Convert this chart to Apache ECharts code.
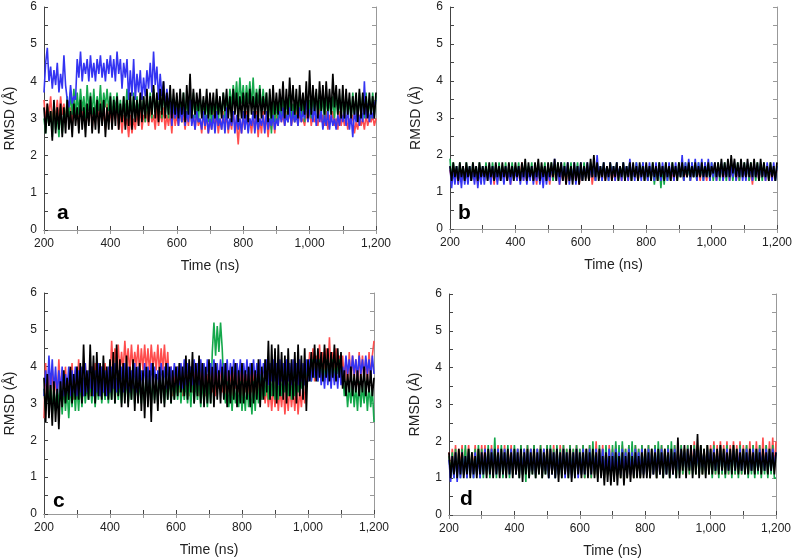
<!DOCTYPE html>
<html><head><meta charset="utf-8">
<script src="https://cdn.jsdelivr.net/npm/echarts@6/dist/echarts.min.js"></script>
<style>html,body{margin:0;padding:0;background:#fff}#c{width:795px;height:559px}</style>
</head><body><div id="c"></div>
<script>
const time = [200,205,210,215,220,225,230,235,240,245,250,255,260,265,270,275,280,285,290,295,300,
305,310,315,320,325,330,335,340,345,350,355,360,365,370,375,380,385,390,395,400,
405,410,415,420,425,430,435,440,445,450,455,460,465,470,475,480,485,490,495,500,
505,510,515,520,525,530,535,540,545,550,555,560,565,570,575,580,585,590,595,600,
605,610,615,620,625,630,635,640,645,650,655,660,665,670,675,680,685,690,695,700,
705,710,715,720,725,730,735,740,745,750,755,760,765,770,775,780,785,790,795,800,
805,810,815,820,825,830,835,840,845,850,855,860,865,870,875,880,885,890,895,900,
905,910,915,920,925,930,935,940,945,950,955,960,965,970,975,980,985,990,995,1000,
1005,1010,1015,1020,1025,1030,1035,1040,1045,1050,1055,1060,1065,1070,1075,1080,1085,1090,1095,1100,
1105,1110,1115,1120,1125,1130,1135,1140,1145,1150,1155,1160,1165,1170,1175,1180,1185,1190,1195,1200];
const xTicks = [200,400,600,800,1000,1200];
const yTicks = [0,1,2,3,4,5,6];
const panelLetters = ['a','b','c','d'];

// Panel a
const aRed = [3.5,2.9,3.4,3.1,3.6,2.9,3.3,3.0,3.5,2.9,3.6,3.1,3.4,2.9,3.5,3.0,3.3,2.8,3.5,3.0,3.3,
2.8,3.4,3.0,3.5,2.8,3.2,2.9,3.5,2.7,3.3,3.0,3.4,2.8,3.6,2.9,3.2,2.7,3.4,2.9,3.2,
2.8,3.3,3.0,3.4,2.7,3.2,2.6,3.1,2.8,3.0,2.5,3.1,2.6,3.0,2.7,3.2,2.8,3.3,2.7,3.1,
2.9,3.2,2.8,3.3,2.9,3.1,2.7,3.3,2.8,3.2,2.9,3.3,2.7,3.1,2.8,3.2,2.6,3.3,2.8,3.1,
2.8,3.3,2.9,3.1,2.7,3.2,2.8,3.3,2.9,3.1,2.7,3.2,2.8,3.0,2.6,3.2,2.7,3.1,2.6,3.0,
2.7,3.2,2.8,3.1,2.6,3.0,2.7,3.2,2.8,3.1,2.6,3.0,2.7,3.2,2.8,2.9,2.3,3.0,2.6,3.1,
2.7,3.2,2.8,3.0,2.6,3.1,2.7,3.2,2.5,3.0,2.6,3.2,2.7,3.1,2.5,3.0,2.7,3.2,2.6,3.1,
2.8,3.3,2.9,3.1,2.8,3.2,2.9,3.3,2.8,3.1,2.9,3.3,2.8,3.2,2.9,3.0,2.8,3.2,2.9,3.3,
2.8,3.2,2.9,3.0,2.8,3.3,2.9,3.1,2.8,3.2,2.7,3.1,2.9,3.2,2.8,3.0,2.7,3.2,2.8,3.1,
2.8,3.1,2.7,3.0,2.9,3.1,2.6,2.9,2.7,3.1,2.8,3.0,2.7,3.1,2.8,3.0,2.9,3.1,2.8,3.0];
const aGreen = [3.0,2.6,3.3,2.8,3.2,2.5,3.4,2.7,3.1,2.5,3.3,2.6,3.2,2.9,3.6,3.0,3.7,3.1,3.8,3.0,3.7,
3.1,3.8,3.2,3.6,3.0,3.9,3.2,3.7,3.1,3.8,3.0,3.6,3.2,3.9,3.1,3.7,3.3,3.8,3.2,3.7,
3.0,3.6,3.2,3.7,3.1,3.5,2.9,3.6,3.1,3.8,3.0,3.5,3.1,3.7,3.0,3.6,3.2,3.5,3.1,3.6,
2.9,3.6,3.1,3.7,3.0,3.8,3.2,3.6,3.1,3.7,3.0,3.8,3.1,3.6,3.0,3.7,3.1,3.5,3.0,3.6,
3.0,3.6,2.9,3.7,3.1,3.5,3.0,3.6,2.9,3.7,3.0,3.5,2.9,3.6,3.1,3.5,2.8,3.6,2.9,3.4,
2.8,3.5,3.0,3.6,2.9,3.5,3.1,3.7,3.0,3.6,3.2,3.8,3.3,3.9,3.4,4.0,3.3,4.1,3.4,3.9,
3.3,3.9,3.4,4.0,3.3,4.1,3.2,3.8,3.4,3.9,3.2,3.8,3.3,3.7,3.0,3.6,2.6,3.5,2.9,3.4,
2.9,3.5,3.0,3.6,3.1,3.5,2.9,3.6,3.0,3.4,2.9,3.5,3.1,3.6,3.0,3.5,2.9,3.6,3.0,3.5,
3.0,3.6,3.1,3.7,3.0,3.5,3.1,3.6,2.9,3.7,3.0,3.5,3.1,3.6,3.0,3.7,3.1,3.5,3.0,3.7,
3.0,3.6,3.1,3.5,2.9,3.7,3.1,3.6,3.0,3.7,3.1,3.6,3.0,3.7,3.1,3.5,3.0,3.7,3.1,3.6];
const aBlue = [3.7,4.5,4.9,4.0,4.4,3.8,4.3,3.9,4.5,3.7,4.2,3.8,4.7,3.9,3.5,3.3,3.9,3.4,3.6,3.5,4.6,
4.1,4.8,4.0,4.5,4.2,4.6,4.0,4.7,4.1,4.5,4.0,4.6,4.2,4.7,4.1,4.5,4.0,4.6,4.2,4.7,
4.1,4.6,4.0,4.8,4.2,4.6,3.8,4.5,4.1,4.6,3.5,4.3,3.6,4.6,3.5,4.2,3.7,4.3,3.5,4.1,
3.6,4.3,3.8,4.5,3.7,4.8,3.9,4.4,3.5,4.2,3.6,4.0,3.3,3.8,3.4,3.6,2.8,3.4,3.0,3.3,
2.8,3.3,2.9,3.4,2.8,3.2,2.9,3.5,2.8,3.1,2.7,3.2,2.9,3.0,2.7,3.2,2.8,3.1,2.6,3.0,
2.7,3.1,2.6,3.2,2.8,3.0,2.7,3.1,2.6,3.3,2.7,3.0,2.8,3.2,2.6,3.1,2.7,3.0,2.6,3.2,
2.7,3.1,2.6,3.0,2.8,3.2,2.6,3.1,2.7,3.0,2.8,3.1,2.6,3.2,2.7,3.0,2.8,3.1,2.7,3.0,
2.8,3.2,2.9,3.3,2.8,3.1,2.9,3.3,2.8,3.2,2.9,3.1,2.8,3.3,2.9,3.2,3.0,3.6,2.9,3.2,
3.3,2.9,3.4,2.8,3.3,2.9,3.2,2.7,3.1,2.8,3.2,2.7,3.1,2.8,3.0,2.7,3.1,2.8,3.2,2.9,
3.2,2.8,3.3,2.7,3.1,2.5,3.2,2.9,3.3,2.8,3.2,2.9,4.0,3.0,3.4,2.9,3.2,3.0,3.4,3.5];
const aBlack = [3.3,2.6,3.4,2.8,3.2,2.4,3.5,2.6,3.3,2.7,3.4,2.5,3.3,2.6,3.5,2.7,3.2,2.5,3.4,2.8,3.3,
2.6,3.5,2.7,3.3,2.5,3.4,2.8,3.6,2.6,3.3,2.7,3.5,2.6,3.4,2.8,3.5,2.5,3.3,2.7,3.6,
2.7,3.5,2.8,3.6,2.7,3.4,2.9,3.6,2.7,3.5,2.8,3.7,2.7,3.6,2.9,3.5,2.8,3.7,2.9,3.6,
3.0,3.8,2.9,3.6,3.1,3.9,3.0,3.7,2.9,3.8,3.1,4.0,3.0,3.7,3.1,3.9,3.0,3.8,3.1,3.7,
3.0,3.8,3.1,3.7,2.9,3.9,3.1,4.2,3.0,3.8,3.1,3.7,3.2,3.8,3.0,3.6,3.1,3.8,3.0,3.7,
3.1,3.7,3.0,3.8,3.1,3.6,3.0,3.7,3.2,3.8,3.0,3.6,2.9,3.8,3.1,3.7,2.9,3.6,3.0,3.7,
3.0,3.7,2.9,3.8,3.1,3.6,3.0,3.7,2.9,3.8,3.0,3.6,3.1,3.7,2.9,3.8,3.0,3.9,3.1,3.7,
3.1,3.8,3.2,4.0,3.0,3.8,3.1,4.1,3.2,3.9,3.1,3.8,3.0,3.9,3.2,3.7,3.1,4.0,3.0,4.3,
3.1,3.9,3.2,3.8,3.0,4.0,3.2,3.9,3.1,4.0,3.2,3.8,3.1,4.2,3.3,3.9,3.1,3.8,3.0,3.9,
3.0,3.8,3.1,3.7,3.0,3.6,3.1,3.7,2.9,3.8,3.0,3.7,3.1,3.6,3.0,3.7,3.1,3.6,3.0,3.7];

// Panel b
const bRed = [1.6,1.3,1.7,1.4,1.6,1.2,1.7,1.3,1.5,1.3,1.7,1.4,1.6,1.3,1.7,1.3,1.6,1.2,1.7,1.4,1.6,
1.3,1.6,1.4,1.7,1.3,1.6,1.2,1.7,1.3,1.6,1.4,1.7,1.3,1.6,1.3,1.7,1.2,1.6,1.4,1.7,
1.3,1.6,1.4,1.8,1.3,1.7,1.3,1.6,1.4,1.7,1.3,1.6,1.2,1.7,1.3,1.6,1.4,1.7,1.3,1.6,
1.2,1.7,1.3,1.6,1.4,1.7,1.2,1.6,1.3,1.7,1.2,1.6,1.3,1.7,1.4,1.6,1.3,1.7,1.2,1.6,
1.3,1.7,1.4,1.6,1.3,1.7,1.2,1.6,1.3,1.7,1.4,1.6,1.3,1.7,1.3,1.6,1.4,1.7,1.3,1.6,
1.3,1.7,1.4,1.6,1.3,1.7,1.4,1.6,1.3,1.7,1.3,1.6,1.4,1.7,1.3,1.6,1.4,1.7,1.3,1.6,
1.3,1.7,1.4,1.6,1.3,1.7,1.3,1.6,1.4,1.7,1.3,1.6,1.4,1.7,1.3,1.6,1.3,1.7,1.4,1.6,
1.4,1.7,1.3,1.6,1.4,1.7,1.3,1.6,1.4,1.7,1.4,1.6,1.3,1.7,1.4,1.6,1.3,1.7,1.4,1.6,
1.4,1.7,1.3,1.6,1.4,1.7,1.3,1.6,1.4,1.7,1.3,1.6,1.4,1.7,1.3,1.6,1.3,1.7,1.4,1.6,
1.4,1.7,1.3,1.6,1.2,1.7,1.4,1.6,1.3,1.7,1.4,1.6,1.3,1.7,1.4,1.6,1.3,1.7,1.4,1.6];
const bGreen = [1.9,1.3,1.8,1.4,1.7,1.3,1.8,1.4,1.7,1.3,1.8,1.4,1.7,1.3,1.8,1.4,1.7,1.3,1.8,1.4,1.7,
1.3,1.8,1.4,1.7,1.3,1.8,1.4,1.7,1.3,1.8,1.4,1.7,1.3,1.8,1.4,1.7,1.3,1.8,1.4,1.7,
1.4,1.8,1.3,1.7,1.4,1.8,1.3,1.7,1.4,1.8,1.3,1.7,1.4,1.8,1.3,1.7,1.4,1.8,1.3,1.7,
1.4,1.8,1.3,1.7,1.4,1.8,1.3,1.7,1.4,1.8,1.3,1.7,1.4,1.8,1.3,1.7,1.4,1.8,1.3,1.7,
1.3,1.8,1.4,1.7,1.3,1.8,1.4,1.7,1.3,1.8,1.4,1.7,1.3,1.8,1.4,1.7,1.3,1.8,1.4,1.7,
1.4,1.8,1.3,1.7,1.4,1.8,1.3,1.7,1.4,1.8,1.3,1.7,1.4,1.8,1.3,1.7,1.4,1.8,1.3,1.7,
1.3,1.7,1.3,1.8,1.2,1.7,1.3,1.8,1.1,1.7,1.2,1.8,1.3,1.7,1.3,1.8,1.4,1.7,1.3,1.8,
1.4,1.7,1.3,1.8,1.4,1.7,1.3,1.8,1.4,1.7,1.3,1.8,1.4,1.7,1.3,1.8,1.4,1.7,1.3,1.8,
1.3,1.7,1.4,1.8,1.3,1.7,1.4,1.8,1.3,1.7,1.4,1.8,1.3,1.7,1.4,1.8,1.3,1.7,1.4,1.8,
1.4,1.7,1.3,1.8,1.4,1.7,1.3,1.8,1.4,1.7,1.3,1.8,1.4,1.7,1.3,1.8,1.4,1.7,1.3,1.7];
const bBlue = [1.7,1.1,1.6,1.2,1.7,1.2,1.6,1.1,1.7,1.2,1.6,1.2,1.7,1.3,1.6,1.2,1.7,1.1,1.6,1.2,1.7,
1.2,1.7,1.3,1.6,1.2,1.7,1.3,1.6,1.2,1.7,1.3,1.6,1.2,1.7,1.3,1.6,1.2,1.7,1.3,1.6,
1.3,1.7,1.2,1.6,1.3,1.7,1.2,1.6,1.3,1.7,1.2,1.6,1.3,1.7,1.2,1.6,1.1,1.7,1.2,1.6,
1.3,1.7,1.4,1.9,1.3,1.7,1.2,1.8,1.3,1.7,1.4,1.8,1.2,1.7,1.3,1.8,1.2,1.7,1.3,1.8,
1.3,1.7,1.4,1.8,1.3,1.7,1.4,1.8,1.3,2.0,1.4,1.7,1.3,1.8,1.4,1.7,1.3,1.8,1.4,1.7,
1.3,1.8,1.4,1.7,1.3,1.8,1.4,1.7,1.3,1.9,1.4,1.7,1.3,1.8,1.4,1.7,1.3,1.8,1.4,1.7,
1.3,1.8,1.4,1.7,1.3,1.8,1.4,1.7,1.3,1.8,1.4,1.7,1.3,1.8,1.4,1.7,1.3,1.8,1.4,1.7,
1.4,2.0,1.3,1.8,1.4,1.9,1.3,1.8,1.4,1.9,1.3,1.8,1.4,1.9,1.3,1.8,1.4,1.9,1.3,1.8,
1.4,1.8,1.3,1.7,1.4,1.8,1.3,1.7,1.4,1.8,1.3,1.7,1.4,1.8,1.3,1.7,1.4,1.8,1.3,1.7,
1.3,1.8,1.4,1.7,1.3,1.8,1.4,1.7,1.3,1.8,1.4,1.7,1.3,1.8,1.4,1.7,1.3,1.8,1.3,1.7];
const bBlack = [1.7,1.3,1.8,1.4,1.7,1.3,1.8,1.4,1.7,1.3,1.8,1.4,1.7,1.3,1.8,1.4,1.7,1.3,1.8,1.4,1.7,
1.4,1.7,1.3,1.8,1.4,1.7,1.3,1.8,1.4,1.7,1.3,1.8,1.4,1.7,1.3,1.8,1.4,1.7,1.3,1.8,
1.4,1.7,1.3,1.8,1.4,1.9,1.3,1.8,1.4,1.7,1.3,1.8,1.4,1.9,1.3,1.8,1.4,1.7,1.3,1.8,
1.4,1.8,1.4,1.9,1.3,1.8,1.4,1.8,1.3,1.7,1.2,1.8,1.3,1.7,1.2,1.8,1.3,1.7,1.2,1.8,
1.3,1.7,1.3,1.8,1.3,1.9,1.4,2.0,1.4,1.8,1.3,1.7,1.4,1.8,1.3,1.7,1.4,1.8,1.3,1.7,
1.4,1.8,1.3,1.7,1.4,1.8,1.3,1.7,1.4,1.8,1.3,1.8,1.4,1.7,1.3,1.8,1.4,1.7,1.3,1.8,
1.4,1.7,1.3,1.8,1.4,1.7,1.3,1.8,1.4,1.7,1.3,1.8,1.4,1.7,1.3,1.8,1.4,1.7,1.3,1.8,
1.4,1.8,1.4,1.7,1.4,1.8,1.4,1.7,1.4,1.8,1.4,1.7,1.4,1.8,1.4,1.7,1.4,1.8,1.4,1.7,
1.5,1.8,1.4,1.8,1.4,1.9,1.4,1.8,1.4,1.9,1.4,2.0,1.5,1.9,1.4,1.8,1.4,1.9,1.4,1.8,
1.4,1.9,1.4,1.8,1.4,1.9,1.4,1.8,1.3,1.9,1.4,1.8,1.4,1.7,1.3,1.8,1.4,1.7,1.3,1.8];

// Panel c
const cRed = [2.6,4.1,3.1,3.8,3.0,4.0,3.2,3.7,3.1,4.2,3.3,3.9,3.1,4.0,3.2,3.8,3.3,4.1,3.1,3.9,3.2,
4.2,3.3,3.9,3.2,4.1,3.4,3.8,3.2,4.0,3.3,4.1,3.4,3.9,3.2,4.0,3.3,4.1,3.5,3.9,3.6,
4.7,3.9,4.5,4.0,4.6,3.8,4.4,3.9,4.7,4.0,4.5,3.8,4.6,3.9,4.4,4.0,4.6,3.8,4.5,3.9,
4.6,3.9,4.5,3.8,4.6,4.0,4.4,3.9,4.6,3.8,4.5,3.9,4.6,3.8,4.4,3.4,4.0,3.2,3.9,3.3,
4.0,3.3,3.9,3.2,4.1,3.4,3.8,3.2,4.0,3.3,3.9,3.4,4.1,3.2,3.9,3.3,4.0,3.2,3.8,3.3,
3.9,3.3,4.0,3.2,3.9,3.4,4.1,3.3,3.8,3.2,3.9,3.3,4.0,3.2,3.9,3.4,4.1,3.3,3.9,3.2,
4.0,3.3,3.8,3.2,3.9,3.3,4.0,3.2,3.8,3.3,3.9,3.2,3.7,3.0,3.5,2.9,3.4,2.8,3.5,2.9,
3.5,2.8,3.4,2.9,3.5,2.7,3.4,2.8,3.5,2.9,3.4,2.8,3.5,2.7,3.4,2.9,3.5,3.0,3.8,3.6,
4.4,3.7,4.5,3.6,4.3,3.8,4.6,3.7,4.4,3.6,4.5,3.8,4.8,3.7,4.4,3.6,4.5,3.8,4.3,3.7,
4.3,3.6,4.2,3.5,4.4,3.6,4.3,3.7,4.2,3.5,4.4,3.6,4.3,3.7,4.2,3.6,4.4,3.7,4.3,4.7];
const cGreen = [3.4,2.8,3.5,2.9,3.6,2.7,3.4,2.8,3.5,2.9,3.6,2.7,3.5,2.8,3.4,2.6,3.5,2.9,3.6,2.8,3.5,
2.8,3.6,2.9,3.7,3.0,3.5,3.1,3.6,3.0,3.7,2.9,3.6,3.1,3.8,3.0,3.6,3.1,3.7,3.0,3.6,
3.1,3.8,3.0,3.7,3.1,3.6,3.0,3.8,3.1,3.7,3.0,3.6,3.1,3.8,3.0,3.7,3.1,3.6,3.0,3.7,
3.0,3.7,3.1,3.8,3.0,3.6,3.1,3.7,3.0,3.8,3.1,3.7,3.0,3.6,3.1,3.8,3.0,3.7,3.1,3.6,
3.1,3.8,3.0,3.7,3.1,3.6,3.0,3.7,2.9,3.8,3.0,3.6,3.1,3.7,2.9,3.6,3.0,3.7,2.9,3.6,
3.0,4.4,5.2,4.3,5.1,4.4,5.2,4.5,3.4,3.0,3.6,2.9,3.5,2.8,3.6,3.0,3.5,2.9,3.6,2.8,
3.5,2.8,3.6,2.9,3.5,2.7,3.6,2.8,3.7,3.0,3.8,3.1,3.7,3.2,3.8,3.1,3.9,3.2,3.8,3.1,
3.8,3.1,3.9,3.2,3.8,3.3,3.9,3.2,3.8,3.1,3.9,3.2,3.8,3.3,4.0,3.4,3.9,3.5,4.0,3.6,
4.1,3.6,4.2,3.7,4.1,3.6,4.2,3.7,4.1,3.6,4.2,3.7,4.1,3.6,4.2,3.7,4.1,3.8,4.2,3.7,
3.9,3.2,3.6,2.9,3.5,3.0,3.6,2.9,3.5,2.8,3.6,2.9,3.5,3.0,3.6,2.8,3.5,2.9,3.4,2.5];
const cBlue = [3.2,3.9,3.3,4.3,3.4,4.2,3.3,4.0,3.2,3.9,3.3,4.0,3.2,3.8,3.3,4.0,3.2,3.9,3.3,4.0,3.2,
3.9,3.3,4.0,3.2,4.1,3.3,3.9,3.4,4.0,3.2,3.9,3.3,4.1,3.2,4.0,3.3,3.9,3.2,4.0,3.3,
4.0,3.4,4.1,3.3,3.9,3.4,4.0,3.3,4.1,3.4,4.0,3.3,3.9,3.4,4.1,3.3,4.0,3.4,3.9,3.4,
4.1,3.4,4.0,3.5,4.1,3.4,4.0,3.5,3.9,3.4,4.1,3.5,4.0,3.4,4.1,3.5,4.0,3.5,4.1,3.5,
4.0,3.5,4.1,3.4,4.2,3.5,4.1,3.6,4.0,3.5,4.2,3.6,4.1,3.5,4.2,3.6,4.1,3.5,4.2,3.6,
4.1,3.5,4.2,3.6,4.1,3.5,4.2,3.6,4.1,3.6,4.2,3.5,4.1,3.6,4.2,3.5,4.1,3.6,4.2,3.5,
4.1,3.6,4.2,3.5,4.1,3.6,4.2,3.5,4.1,3.6,4.2,3.5,4.1,3.6,4.2,3.5,4.1,3.6,4.2,3.6,
4.1,3.5,4.2,3.6,4.1,3.5,4.2,3.6,4.1,3.5,4.2,3.6,4.1,3.5,4.2,3.6,4.1,3.5,4.2,3.6,
4.2,3.6,4.1,3.7,4.2,3.6,4.1,3.5,4.0,3.4,4.1,3.5,4.0,3.4,4.1,3.5,4.0,3.4,4.1,3.5,
4.0,3.7,4.3,3.8,4.2,3.7,4.3,3.8,4.2,3.7,4.3,3.8,4.2,3.7,4.3,3.8,4.2,3.7,4.3,3.8];
const cBlack = [3.7,2.5,3.8,2.6,3.5,2.4,3.6,2.5,3.4,2.3,3.6,2.9,3.9,3.0,3.7,3.1,4.0,3.0,3.8,3.1,4.0,
3.1,4.1,3.0,4.6,3.2,3.9,3.1,4.6,3.2,4.3,3.0,4.4,3.2,4.1,3.1,4.3,3.2,4.0,3.1,4.2,
3.1,4.4,3.0,4.6,3.2,4.2,2.9,4.1,3.0,4.3,2.9,4.0,3.1,4.2,2.8,4.0,3.0,4.1,2.8,3.9,
2.6,4.0,2.9,3.9,2.5,4.1,3.0,3.8,2.8,4.0,3.0,3.9,2.9,4.1,3.1,4.0,3.0,3.9,3.1,4.0,
3.2,4.1,3.3,4.0,3.2,4.3,3.1,4.2,3.3,4.4,3.0,4.1,3.2,4.3,3.0,4.1,2.9,4.0,3.0,4.2,
3.0,4.0,2.9,4.1,3.1,3.9,3.0,4.0,3.1,4.1,2.9,3.9,3.0,4.0,3.1,4.1,2.9,3.9,3.0,4.1,
3.0,3.9,3.1,4.0,2.9,4.1,3.0,3.9,3.1,4.2,2.9,4.0,3.1,4.2,3.3,4.7,3.1,4.6,3.2,4.5,
3.0,4.6,3.2,4.4,3.1,4.3,3.0,4.5,3.2,4.2,3.1,4.4,3.0,4.6,3.2,4.3,3.1,4.5,2.8,4.2,
3.6,4.4,3.7,4.6,3.6,4.5,3.7,4.4,3.6,4.6,3.7,4.5,3.6,4.4,3.7,4.6,3.6,4.5,3.7,4.4,
3.4,3.9,3.2,3.8,3.3,4.0,3.2,3.8,3.3,3.9,3.2,3.8,3.3,4.0,3.2,3.8,3.3,3.9,3.2,3.7];

// Panel d
const dRed = [1.7,1.1,1.8,1.2,1.9,1.1,1.8,1.3,1.9,1.1,1.8,1.2,1.9,1.1,1.7,1.2,1.9,1.1,1.8,1.2,1.9,
1.2,1.9,1.1,1.8,1.2,1.9,1.1,1.8,1.2,1.9,1.1,1.8,1.2,1.9,1.1,1.8,1.2,1.9,1.1,1.8,
1.1,1.8,1.2,1.9,1.1,1.8,1.2,1.9,1.1,1.8,1.2,1.9,1.1,1.8,1.2,1.9,1.1,1.8,1.2,1.9,
1.2,1.8,1.1,1.9,1.2,1.8,1.1,1.9,1.2,1.9,1.1,1.8,1.2,1.9,1.1,1.8,1.2,1.9,1.1,1.8,
1.1,1.9,1.0,1.8,1.1,1.9,1.0,1.8,1.1,2.0,1.0,1.8,1.1,1.9,1.0,1.8,1.1,1.9,1.0,1.8,
1.0,1.9,1.1,1.8,1.0,1.9,1.1,1.8,1.0,1.9,1.1,1.8,1.0,1.9,1.1,1.8,1.0,1.9,1.1,1.8,
1.1,1.9,1.0,1.8,1.1,1.9,1.0,1.8,1.1,1.9,1.2,1.8,1.1,1.9,1.2,1.8,1.1,1.9,1.2,1.8,
1.2,1.9,1.1,1.8,1.2,1.9,1.1,1.9,1.2,2.0,1.1,1.9,1.2,1.9,1.1,1.8,1.2,1.9,1.1,1.9,
1.2,2.0,1.1,1.9,1.2,2.0,1.1,1.9,1.2,2.0,1.1,1.9,1.2,2.0,1.1,1.9,1.2,2.0,1.1,1.9,
1.2,1.9,1.1,2.0,1.2,1.9,1.1,2.0,1.2,1.9,1.1,2.1,1.2,1.9,1.1,2.0,1.2,2.1,1.2,2.0];
const dGreen = [1.6,1.1,1.7,1.0,1.8,1.1,1.7,1.0,1.8,1.1,1.9,1.0,1.8,1.1,1.7,1.0,1.8,1.1,1.9,1.0,1.8,
1.0,1.8,1.1,1.9,1.0,1.8,1.1,2.1,1.0,1.8,1.1,1.9,1.0,1.8,1.1,1.9,1.0,1.8,1.1,1.9,
1.1,1.8,1.0,1.9,1.1,1.8,0.9,1.9,1.0,1.8,1.1,1.9,1.0,1.8,1.1,1.9,1.0,1.8,1.1,1.9,
1.0,1.9,1.1,1.8,1.0,1.9,1.1,1.8,1.0,1.9,1.1,1.8,1.0,1.9,1.1,1.8,1.0,1.9,1.1,1.8,
1.1,1.9,1.0,1.8,1.1,1.9,1.0,2.0,1.1,1.8,1.0,1.9,1.1,1.8,1.0,1.9,1.1,1.8,1.0,1.9,
1.0,2.0,1.1,1.9,1.0,2.0,1.1,1.8,1.0,1.9,1.1,2.0,1.0,1.9,1.1,1.8,1.0,1.9,1.1,1.8,
1.1,1.9,1.0,1.8,1.1,1.9,1.0,2.0,1.1,1.9,1.0,1.8,1.1,1.9,1.0,2.0,1.1,1.9,1.0,1.8,
1.1,1.9,1.1,1.8,1.1,1.9,1.1,1.8,1.1,1.9,1.1,1.8,1.1,1.9,1.1,1.8,1.1,1.9,1.1,1.8,
1.0,1.9,1.1,1.8,1.0,1.9,1.1,1.8,1.0,1.9,1.1,1.8,1.0,1.9,1.1,1.8,1.0,1.9,1.1,1.8,
1.1,1.9,1.0,1.8,1.1,1.9,1.0,1.8,1.1,1.9,1.0,1.8,1.1,1.9,1.0,1.8,1.1,1.9,1.0,1.0];
const dBlue = [1.5,0.9,1.6,1.0,1.7,0.9,1.6,1.0,1.7,1.1,1.6,1.0,1.7,1.1,1.6,1.0,1.7,1.1,1.6,1.0,1.7,
1.1,1.8,1.2,1.7,1.1,1.8,1.2,1.7,1.1,1.8,1.2,1.7,1.1,1.8,1.2,1.7,1.1,1.8,1.2,1.7,
1.1,1.8,1.2,1.7,1.1,1.8,1.2,1.7,1.1,1.8,1.2,1.7,1.1,1.8,1.2,1.7,1.1,1.8,1.2,1.7,
1.0,1.8,1.1,1.7,1.0,1.8,1.1,1.7,1.1,1.8,1.0,1.7,1.1,1.8,1.0,1.7,1.1,1.8,1.0,1.7,
1.1,1.8,1.1,1.7,1.2,1.8,1.1,1.7,1.2,1.8,1.1,1.7,1.2,1.8,1.1,1.7,1.2,1.8,1.1,1.7,
1.1,1.8,1.1,1.7,1.1,1.8,1.2,1.7,1.1,1.8,1.1,1.7,1.1,1.8,1.2,1.7,1.1,1.8,1.1,1.7,
1.1,1.8,1.2,1.7,1.1,1.8,1.2,1.7,1.1,1.8,1.2,1.7,1.1,1.8,1.2,1.7,1.1,1.8,1.2,1.7,
1.2,1.8,1.3,1.7,1.2,1.8,1.3,1.7,1.2,1.8,1.3,1.7,1.2,1.8,1.3,1.7,1.2,1.8,1.3,1.7,
1.3,1.8,1.2,1.7,1.3,1.8,1.2,1.7,1.3,1.8,1.2,1.7,1.3,1.8,1.2,1.7,1.3,1.8,1.2,1.7,
1.2,1.8,1.3,1.7,1.2,1.8,1.3,1.7,1.2,1.8,1.3,1.7,1.2,1.8,1.3,1.7,1.2,1.8,1.3,1.7];
const dBlack = [1.7,1.0,1.6,1.1,1.7,1.0,1.8,1.1,1.7,1.0,1.6,1.1,1.8,1.0,1.7,1.1,1.6,1.0,1.8,1.1,1.7,
1.1,1.7,1.0,1.8,1.1,1.7,1.0,1.8,1.1,1.7,1.0,1.8,1.1,1.7,1.0,1.8,1.1,1.7,1.0,1.8,
1.1,1.7,1.0,1.8,0.9,1.7,1.1,1.8,1.0,1.7,1.1,1.8,1.0,1.7,1.1,1.8,1.0,1.7,1.1,1.8,
1.0,1.8,1.1,1.7,1.0,1.8,0.9,1.7,1.0,1.8,1.1,1.7,1.0,1.8,0.9,1.7,1.0,1.8,1.1,1.7,
1.0,1.7,1.1,1.8,1.0,1.7,1.1,1.8,1.0,1.7,0.9,1.8,1.0,1.6,0.8,1.7,0.9,1.6,0.8,1.6,
0.9,1.7,0.8,1.6,1.0,1.7,0.8,1.6,1.0,1.7,0.9,1.6,1.0,1.7,1.0,1.6,1.0,1.7,1.0,1.8,
1.0,1.7,1.0,1.8,1.1,1.7,1.0,1.8,1.1,1.7,1.0,1.8,1.1,1.7,1.0,1.8,1.1,1.7,1.0,2.1,
1.0,1.8,1.2,1.9,1.0,1.8,1.2,1.9,1.0,1.8,1.1,2.2,1.0,1.9,1.1,1.8,1.0,1.9,1.1,1.8,
1.1,1.7,1.2,1.8,1.1,1.9,1.2,1.8,1.1,1.7,1.2,1.8,1.1,1.9,1.2,1.8,1.1,1.7,1.2,1.8,
1.1,1.7,1.1,1.8,1.2,1.7,1.1,1.8,1.2,1.7,1.1,1.8,1.2,1.7,1.1,1.8,1.2,1.7,1.1,1.7];

const panels = [
  [aRed, aGreen, aBlue, aBlack],
  [bRed, bGreen, bBlue, bBlack],
  [cRed, cGreen, cBlue, cBlack],
  [dRed, dGreen, dBlue, dBlack]
];
const colors = ['#ff4d4d', '#14a84b', '#3434f2', '#000000'];
const widths = [1.6, 1.6, 1.6, 1.7];

const grids = [
  {left: 44, top: 7, width: 332, height: 223},
  {left: 450, top: 7, width: 328, height: 222},
  {left: 44, top: 293, width: 330, height: 221},
  {left: 449, top: 294, width: 327, height: 221}
];
const letterPos = [[57, 223], [458, 223], [53, 511], [460, 509]];

const fmt = v => String(v).replace(/\B(?=(\d{3})+(?!\d))/g, ',');
const font = 'Liberation Sans, Arial, sans-serif';
const darkLine = {lineStyle: {color: '#444', width: 1}};
const lightLine = {lineStyle: {color: '#999', width: 1}};
const tick = (c) => ({show: true, inside: true, length: 4, lineStyle: {color: c}});
const minor = (c) => ({show: true, splitNumber: 2, length: 4, lineStyle: {color: c}});

const xAxis = [], yAxis = [], series = [], graphic = [];
grids.forEach((g, i) => {
  xAxis.push({
    gridIndex: i, type: 'value', min: xTicks[0], max: xTicks[xTicks.length - 1],
    interval: xTicks[1] - xTicks[0], position: 'bottom',
    name: 'Time (ns)', nameLocation: 'middle', nameGap: 29,
    nameTextStyle: {fontFamily: font, fontSize: 14, color: '#222'},
    axisLine: darkLine, axisTick: tick('#444'), minorTick: minor('#444'),
    splitLine: {show: false},
    axisLabel: {formatter: fmt, fontFamily: font, fontSize: 12, color: '#222', margin: 8}
  });
  xAxis.push({
    gridIndex: i, type: 'value', min: xTicks[0], max: xTicks[xTicks.length - 1],
    interval: xTicks[1] - xTicks[0], position: 'top',
    axisLine: lightLine, axisTick: tick('#999'), minorTick: minor('#999'),
    splitLine: {show: false}, axisLabel: {show: false}
  });
  yAxis.push({
    gridIndex: i, type: 'value', min: yTicks[0], max: yTicks[yTicks.length - 1],
    interval: 1, position: 'left',
    name: 'RMSD (Å)', nameLocation: 'middle', nameGap: 27,
    nameTextStyle: {fontFamily: font, fontSize: 14, color: '#222'},
    axisLine: darkLine, axisTick: tick('#444'), minorTick: minor('#444'),
    splitLine: {show: false},
    axisLabel: {fontFamily: font, fontSize: 12, color: '#222', margin: 7}
  });
  yAxis.push({
    gridIndex: i, type: 'value', min: yTicks[0], max: yTicks[yTicks.length - 1],
    interval: 1, position: 'right',
    axisLine: lightLine, axisTick: tick('#999'), minorTick: minor('#999'),
    splitLine: {show: false}, axisLabel: {show: false}
  });
  panels[i].forEach((vals, k) => {
    series.push({
      type: 'line', xAxisIndex: 2 * i, yAxisIndex: 2 * i,
      data: time.map((t, j) => [t, vals[j]]),
      showSymbol: false, symbol: 'none', sampling: null,
      lineStyle: {color: colors[k], width: widths[k]},
      z: 2 + k, silent: true, animation: false
    });
  });
  graphic.push({
    type: 'text', left: letterPos[i][0], top: letterPos[i][1] - 20, z: 100,
    style: {text: panelLetters[i], font: 'bold 21px ' + font, fill: '#000'}
  });
});

const chart = echarts.init(document.getElementById('c'), null, {renderer: 'canvas'});
chart.setOption({
  animation: false,
  grid: grids.map(g => Object.assign({containLabel: false}, g)),
  xAxis, yAxis, series, graphic
});
</script>
</body></html>
